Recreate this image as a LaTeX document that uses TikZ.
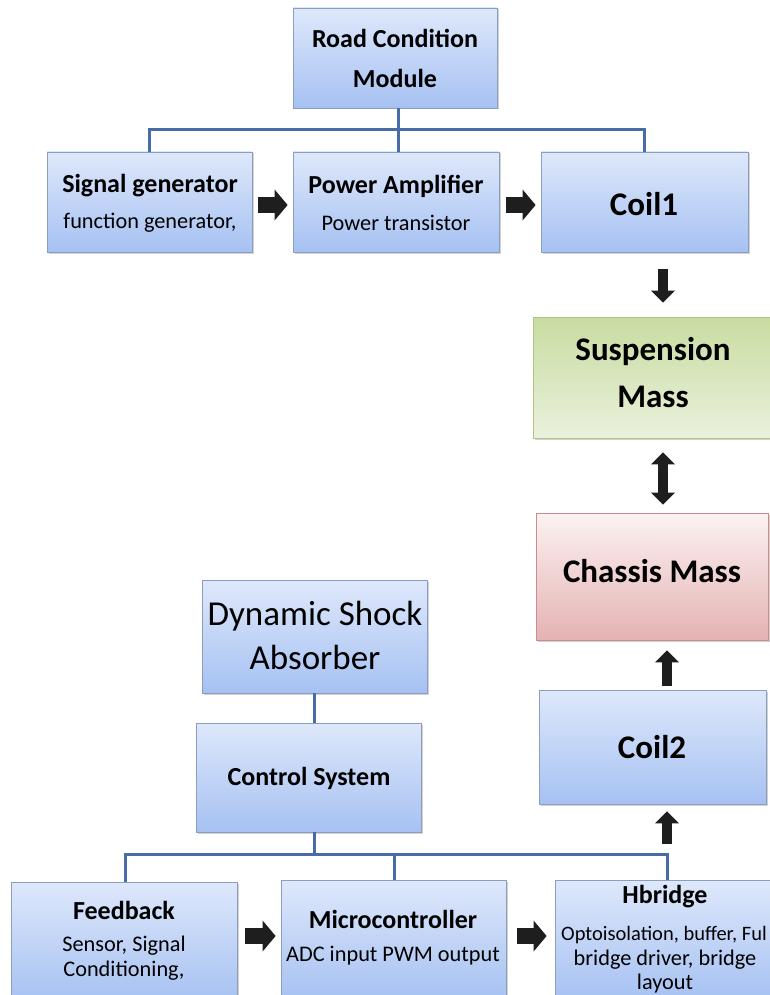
\documentclass[tikz,border=0pt]{standalone}
\usepackage{fontspec}
\setmainfont{Carlito}
\usetikzlibrary{arrows.meta,shadows}
\definecolor{bluetop}{RGB}{222,232,251}
\definecolor{bluebot}{RGB}{166,193,242}
\definecolor{bluedge}{RGB}{140,158,192}
\definecolor{greentop}{RGB}{200,220,160}
\definecolor{greenbot}{RGB}{234,241,220}
\definecolor{greenedge}{RGB}{175,198,130}
\definecolor{pinktop}{RGB}{252,242,242}
\definecolor{pinkbot}{RGB}{228,178,178}
\definecolor{pinkedge}{RGB}{205,140,140}
\definecolor{buscol}{RGB}{72,108,165}
\definecolor{arrowcol}{RGB}{30,30,30}
\tikzset{
  boxbase/.style={rectangle, inner sep=0pt, line width=0.8pt,
    drop shadow={shadow xshift=1.5pt, shadow yshift=-1.5pt, opacity=0.35}},
  bluebox/.style={boxbase, draw=bluedge, top color=bluetop, bottom color=bluebot},
  greenbox/.style={boxbase, draw=greenedge, top color=greentop, bottom color=greenbot},
  pinkbox/.style={boxbase, draw=pinkedge, top color=pinktop, bottom color=pinkbot},
  bus/.style={draw=buscol, line width=3pt},
  harrow/.style={draw=arrowcol, line width=16pt,
    -{Triangle[length=13pt,width=31pt,line width=0pt]}},
  varrow/.style={draw=arrowcol, line width=10pt,
    -{Triangle[length=12pt,width=24pt,line width=0pt]}},
  darrow/.style={draw=arrowcol, line width=10pt,
    {Triangle[length=12pt,width=24pt,line width=0pt]}-{Triangle[length=12pt,width=24pt,line width=0pt]}},
  tb/.style={inner sep=0pt, font=\fontsize{26}{31}\selectfont\bfseries},
  tr/.style={inner sep=0pt, font=\fontsize{22.3}{27}\selectfont},
  tbig/.style={inner sep=0pt, font=\fontsize{33}{40}\selectfont\bfseries},
  tdsa/.style={inner sep=0pt, font=\fontsize{35}{42}\selectfont},
}
\begin{document}
\begin{tikzpicture}[x=1pt,y=-1pt]
\useasboundingbox (0,0) rectangle (769,995);
\fill[white] (0,0) rectangle (769,995);

% boxes
\node[bluebox, minimum width=204pt, minimum height=100pt] (road) at (395,58) {};
\node[bluebox, minimum width=205pt, minimum height=100pt] (sig) at (149.5,202) {};
\node[bluebox, minimum width=206pt, minimum height=100pt] (amp) at (396,202) {};
\node[bluebox, minimum width=207pt, minimum height=100pt] (coil1) at (644.5,202) {};
\node[greenbox, minimum width=242pt, minimum height=121pt] (susp) at (654,377.5) {};
\node[pinkbox, minimum width=232pt, minimum height=127pt] (chassis) at (652,576.5) {};
\node[bluebox, minimum width=227pt, minimum height=114pt] (coil2) at (652.5,747) {};
\node[bluebox, minimum width=225pt, minimum height=113pt] (dsa) at (314.5,636.5) {};
\node[bluebox, minimum width=225pt, minimum height=109pt] (ctrl) at (308.5,777.5) {};
\node[bluebox, minimum width=226pt, minimum height=120pt] (fb) at (124,942) {};
\node[bluebox, minimum width=225pt, minimum height=120pt] (mcu) at (393.5,940) {};
\node[bluebox, minimum width=222pt, minimum height=120pt] (hb) at (666,940) {};

% texts
\node[tb] (road-t1) at (395,38) {Road Condition};
\node[tb] (road-t2) at (395,78) {Module};
\node[tb] (sig-t1) at (150,186) {Signal generator};
\node[tr] (sig-t2) at (150,223) {function generator,};
\node[tb] (amp-t1) at (396,186) {Power Amplifier};
\node[tr] (amp-t2) at (396,223) {Power transistor};
\node[tbig] (coil1-t) at (644,204) {Coil1};
\node[tbig] (susp-t1) at (653,352) {Suspension};
\node[tbig] (susp-t2) at (653,397) {Mass};
\node[tbig] (chassis-t) at (652,571) {Chassis Mass};
\node[tbig] (coil2-t) at (652,747) {Coil2};
\node[tdsa] (dsa-t1) at (315,616) {Dynamic Shock};
\node[tdsa] (dsa-t2) at (315,657) {Absorber};
\node[tb] (ctrl-t) at (309,778) {Control System};
\node[tb] (fb-t1) at (124,910) {Feedback};
\node[tr] (fb-t2) at (124,946) {Sensor, Signal};
\node[tr] (fb-t3) at (124,971) {Conditioning,};
\node[tb] (mcu-t1) at (393,919) {Microcontroller};
\node[tr] (mcu-t2) at (393,956) {ADC input PWM output};
\node[tb] (hb-t1) at (665,897) {Hbridge};
\node[inner sep=0pt, anchor=east, font=\fontsize{20.5}{25}\selectfont] (hb-t2) at (767,935) {Optoisolation, buffer, Ful};
\node[tr] (hb-t3) at (665,960) {bridge driver, bridge};
\node[tr] (hb-t4) at (665,984) {layout};

% top bus
\draw[bus] ([xshift=3pt]road.south) -- ([xshift=2pt]amp.north);
\draw[bus] (sig.north) -- ++(0,-22) -| (coil1.north);
% bottom bus
\draw[bus] (dsa.south) -- (dsa.south |- ctrl.north);
\draw[bus] (dsa.south |- ctrl.south) -- ++(0,23);
\draw[bus] ([xshift=1pt]fb.north) -- ++(0,-27) -| ([xshift=1pt]hb.north);
\draw[bus] ([xshift=0.5pt]mcu.north) -- ++(0,-25);

% block arrows
\draw[harrow, shorten <=6pt, shorten >=5pt] ([yshift=-3pt]sig.east) -- ([yshift=-3pt]sig.east -| amp.west);
\draw[harrow, shorten <=7pt, shorten >=5pt] ([yshift=-3pt]amp.east) -- ([yshift=-3pt]amp.east -| coil1.west);
\draw[varrow, shorten <=17pt, shorten >=14pt] ([xshift=18.5pt]coil1.south) -- ([xshift=18.5pt]coil1.south |- susp.north);
\draw[darrow, shorten <=14pt, shorten >=8pt] ([xshift=9pt]susp.south) -- ([xshift=9pt]susp.south |- chassis.north);
\draw[varrow, shorten <=4pt, shorten >=10pt] ([xshift=14.5pt]coil2.north) -- ([xshift=14.5pt]coil2.north |- chassis.south);
\draw[varrow, shorten <=36pt, shorten >=7pt] ([xshift=1pt]hb.north) -- ([xshift=1pt]hb.north |- coil2.south);
\draw[harrow, shorten <=8pt, shorten >=5pt] ([yshift=6pt]fb.east) -- ([yshift=6pt]fb.east -| mcu.west);
\draw[harrow, shorten <=11pt, shorten >=8pt] ([yshift=4pt]mcu.east) -- ([yshift=4pt]mcu.east -| hb.west);
\end{tikzpicture}
\end{document}
